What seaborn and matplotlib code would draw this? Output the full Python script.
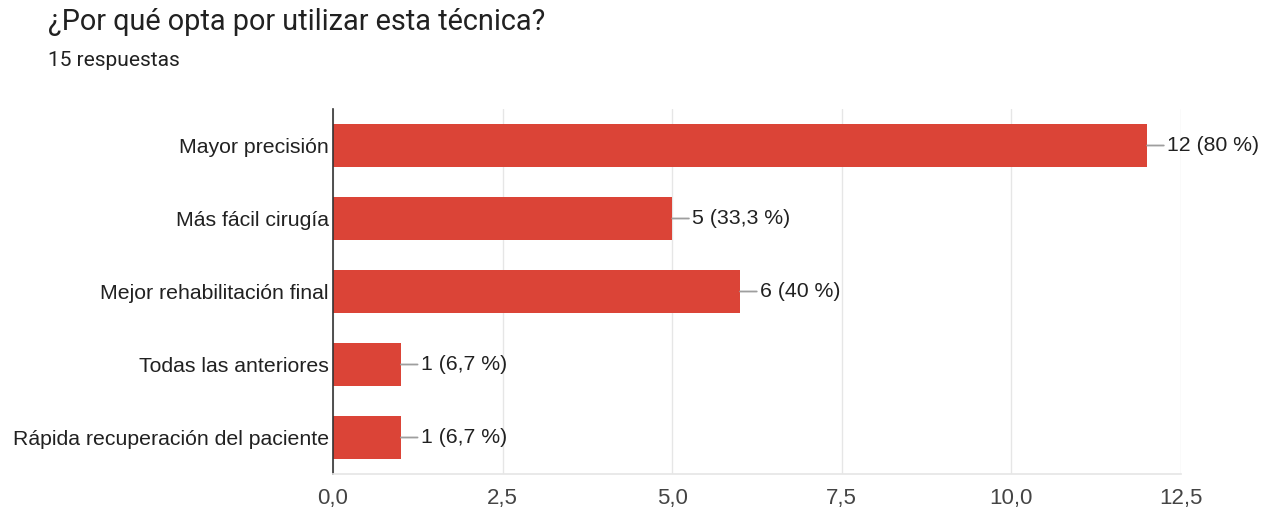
import matplotlib
matplotlib.use("Agg")
import matplotlib.pyplot as plt
import seaborn as sns
import pandas as pd

title = "¿Por qué opta por utilizar esta técnica?"
subtitle = "15 respuestas"
categories = [
    "Mayor precisión",
    "Más fácil cirugía",
    "Mejor rehabilitación final",
    "Todas las anteriores",
    "Rápida recuperación del paciente",
]
counts = [12, 5, 6, 1, 1]
percents = ["80 %", "33,3 %", "40 %", "6,7 %", "6,7 %"]
xticks = [0.0, 2.5, 5.0, 7.5, 10.0, 12.5]

df = pd.DataFrame({"cat": categories, "n": counts})

sns.set_theme(style="white")
plt.rcParams["font.family"] = ["Liberation Sans", "DejaVu Sans"]

fig = plt.figure(figsize=(12.76, 5.12), dpi=100)
ax = fig.add_axes([333 / 1276, 1 - 474 / 512, (1181 - 333) / 1276, (474 - 109) / 512])

red = "#db4437"
text_col = "#212121"

sns.barplot(data=df, x="n", y="cat", orient="h", color=red, width=0.6,
            saturation=1, ax=ax, edgecolor="none")

ax.set_xlim(0, 12.5)
ax.set_xticks(xticks)
ax.set_xticklabels([f"{t:.1f}".replace(".", ",") for t in xticks])
ax.set_xlabel("")
ax.set_ylabel("")
ax.grid(axis="x", color="#e6e6e6", linewidth=1)
ax.set_axisbelow(True)
for side in ["top", "right"]:
    ax.spines[side].set_visible(False)
ax.spines["bottom"].set_color("#e6e6e6")
ax.spines["left"].set_color("#333333")
ax.spines["left"].set_linewidth(1.2)
ax.tick_params(axis="x", length=0, pad=10, labelsize=16, labelcolor="#444444")
ax.tick_params(axis="y", length=0, pad=3, labelsize=15.3, labelcolor=text_col)

# value labels joined to bar ends by a short leader line
for i, (n, p) in enumerate(zip(counts, percents)):
    ax.annotate(f"{n} ({p})", xy=(n, i), xytext=(20, 0),
                textcoords="offset pixels", va="center", ha="left",
                fontsize=15.3, color=text_col,
                arrowprops=dict(arrowstyle="-", color="#9e9e9e", lw=1.3,
                                shrinkA=0, shrinkB=0))

fig.text(48 / 1276, 1 - 22 / 512, title, fontsize=20.8, family="Roboto",
         color=text_col, va="center", ha="left")
fig.text(48 / 1276, 1 - 60 / 512, subtitle, fontsize=15, family="Roboto",
         color=text_col, va="center", ha="left")

fig.savefig("out.png", dpi=100, facecolor="white")
